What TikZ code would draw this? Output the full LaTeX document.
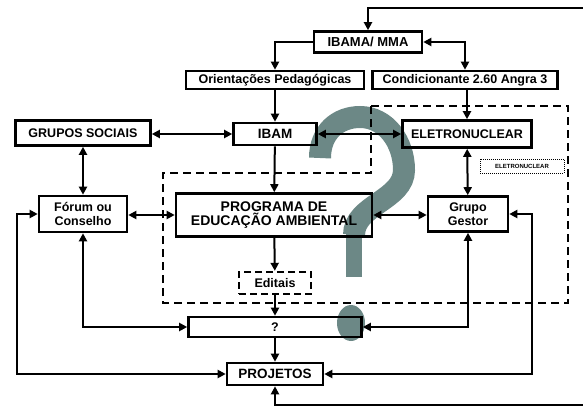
\documentclass[tikz,border=0pt]{standalone}
\usepackage{fontspec}
\setmainfont{Liberation Sans}
\usetikzlibrary{arrows.meta,positioning}
\definecolor{qgray}{RGB}{108,136,134}
\newcommand{\fsz}[2]{\fontsize{#1}{#2}\selectfont}
\tikzstyle{bx} = [rectangle, draw, line width=2.6pt, inner sep=0pt,
    align=center, font=\bfseries\fsz{12.5}{14}]
\tikzstyle{dbx} = [bx, dash pattern=on 7pt off 4pt, line width=2.4pt]
\tikzstyle{minibx} = [rectangle, draw, densely dotted, line width=1pt,
    inner sep=0pt, font=\bfseries\fsz{6}{6}]
\tikzstyle{ln} = [line width=2pt, >={Triangle[length=8pt,width=8pt]}]
\tikzstyle{dsh} = [line width=2.5pt, dash pattern=on 8pt off 5pt]

\begin{document}
\begin{tikzpicture}[x=1pt,y=-1pt]
  \useasboundingbox (0,0) rectangle (583,408);

  % big question mark
  \draw[qgray, line width=22pt] (320,158) .. controls (320,132) and (338,117) .. (360,117)
      .. controls (386,117) and (404,142) .. (404,170)
      .. controls (404,200) and (354,205) .. (354,235);
  \draw[qgray, line width=16pt] (354,230) -- (354,277);
  \fill[qgray] (351,323) ellipse [x radius=14, y radius=18];

  % dashed area
  \draw[dsh] (371,106) -- (568,106) -- (568,303) -- (163,303) -- (163,173) -- (371,173) -- cycle;

  \node[bx,minimum width=108pt,minimum height=21pt,font=\bfseries\fsz{13}{14}] (mma) at (368,42) {IBAMA/ MMA};
  \node[bx,minimum width=178pt,minimum height=18pt] (orient) at (275,80) {Orientações Pedagógicas};
  \node[bx,minimum width=185pt,minimum height=18pt] (cond) at (465,80) {Condicionante 2.60 Angra 3};
  \node[bx,minimum width=135pt,minimum height=25pt] (grupos) at (83,133) {GRUPOS SOCIAIS};
  \node[bx,minimum width=83pt,minimum height=22pt,font=\bfseries\fsz{13.5}{14}] (ibam) at (275,134) {IBAM};
  \node[bx,minimum width=129pt,minimum height=27pt] (eletro) at (467,134) {ELETRONUCLEAR};
  \node[minibx,minimum width=84pt,minimum height=14pt] (mini) at (522,166) {ELETRONUCLEAR};
  \node[bx,minimum width=88pt,minimum height=36pt,font=\bfseries\fsz{12.5}{14}] (forum) at (83,214) {Fórum ou\\Conselho};
  \node[bx,minimum width=196pt,minimum height=43pt,font=\bfseries\fsz{14}{14.5}] (prog) at (274,215) {PROGRAMA DE\\EDUCAÇÃO AMBIENTAL};
  \node[bx,minimum width=80pt,minimum height=35pt] (gestor) at (468,214) {Grupo\\Gestor};
  \node[dbx,minimum width=72pt,minimum height=22pt] (editais) at (275,283) {Editais};
  \node[bx,minimum width=173pt,minimum height=20pt] (quest) at (275,327) {?};
  \node[bx,minimum width=96pt,minimum height=22pt,font=\bfseries\fsz{13.5}{14}] (projetos) at (275,374) {PROJETOS};

  \coordinate (topin) at (583,8);
  \coordinate (botin) at (583,405);

  \draw[ln,->] (topin) -| (mma.north);
  \draw[ln,->] (mma.west) -| (orient.north);
  \draw[ln,<->] (mma.east) -| (cond.north);
  \path[ln,->] (orient) edge (ibam);
  \draw[ln,->] (cond.south -| eletro) -- (eletro.north);
  \draw[ln,<->] (grupos.east |- ibam) -- (ibam.west);
  \draw[ln,<->] (ibam.east) -- (ibam.east -| eletro.west);
  \path[ln,<->] (grupos) edge (forum);
  \path[ln,->] (ibam) edge (prog);
  \draw[ln,<->] (forum.east |- prog) -- (prog.west);
  \draw[ln,<->] (prog.east) -- (prog.east -| gestor.west);
  \path[ln,<->] (eletro) edge (gestor);
  \path[ln,->] (prog) edge (editais);
  \path[ln,->] (editais) edge (quest);
  \draw[ln,<->] (forum.south) |- (quest.west);
  \draw[ln,<->] (gestor.south) |- (quest.east);
  \path[ln,->] (quest) edge (projetos);
  \draw[ln,<->] (forum.west) -- ++(-21,0) |- (projetos.west);
  \draw[ln,<->] (gestor.east) -- ++(23,0) |- (projetos.east);
  \draw[ln,->] (botin) -| (projetos.south);
\end{tikzpicture}
\end{document}
